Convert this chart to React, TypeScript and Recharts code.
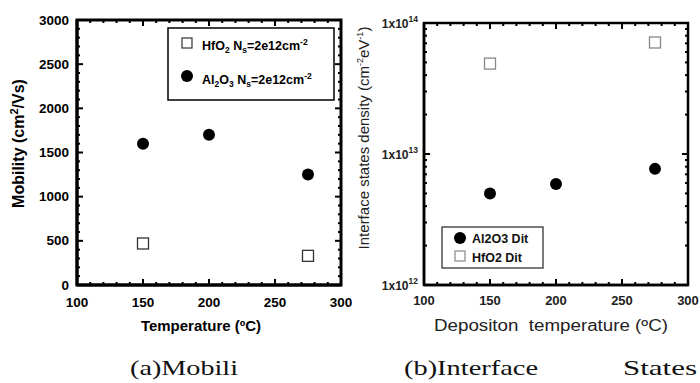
import React from "react";
import { ScatterChart, Scatter, XAxis, YAxis, Label, ReferenceArea } from "recharts";

// deposition temperature (°C) of each sample
const al2o3Temps = [150, 200, 275];
const hfo2Temps = [150, 275];

// (a) mobility, cm²/Vs, at Ns = 2e12 cm^-2
const al2o3Mobility = [1600, 1700, 1250];
const hfo2Mobility = [470, 330];

// (b) interface state density Dit, cm^-2 eV^-1
const al2o3Dit = [5.0e12, 5.9e12, 7.7e12];
const hfo2Dit = [4.9e13, 7.1e13];

// labelled ticks
const tempMajors = [100, 150, 200, 250, 300];
const mobilityMajors = [0, 500, 1000, 1500, 2000, 2500, 3000];
const ditMajors = [1e12, 1e13, 1e14];
const ditExponents = [12, 13, 14];

const FONT = "'Liberation Sans', Arial, sans-serif";

// minor ticks every `step` between the first and last major
const linearTicks = (majors: number[], step: number) => {
  const out: number[] = [];
  for (let v = majors[0]; v <= majors[majors.length - 1]; v += step) out.push(v);
  return out;
};
// 1..9 per decade
const logTicks = (majors: number[]) => {
  const out: number[] = [];
  majors.forEach((m, i) => {
    if (i === majors.length - 1) return out.push(m);
    for (let k = 1; k < 10; k++) out.push(k * m);
  });
  return out;
};

const tempTicks = linearTicks(tempMajors, 10);
const mobilityTicks = linearTicks(mobilityMajors, 100);
const ditTicks = logTicks(ditMajors);

const al2o3MobilityData = al2o3Temps.map((t, i) => ({ t, v: al2o3Mobility[i] }));
const hfo2MobilityData = hfo2Temps.map((t, i) => ({ t, v: hfo2Mobility[i] }));
const al2o3DitData = al2o3Temps.map((t, i) => ({ t, v: al2o3Dit[i] }));
const hfo2DitData = hfo2Temps.map((t, i) => ({ t, v: hfo2Dit[i] }));

const isMajor = (v: number, majors: number[]) =>
  majors.some((m) => Math.abs(v - m) <= Math.abs(m) * 1e-6 + 1e-9);

type TickOpts = {
  far: number; // opposite edge of the frame, for the mirrored tick
  label: (v: number) => React.ReactNode;
  fontSize: number;
  color: string;
  offset: number;
};

// inward tick marks on both edges of the frame, label on the outer side
function makeTick(side: "bottom" | "left", majors: number[], o: TickOpts) {
  return (props: any) => {
    const x = Number(props.x);
    const y = Number(props.y);
    const v = props.payload.value;
    const major = isMajor(v, majors);
    const len = major ? 6 : 3;
    if (side === "bottom")
      return (
        <g>
          <line x1={x} y1={y} x2={x} y2={y - len} stroke="#000" strokeWidth={2} />
          <line x1={x} y1={o.far} x2={x} y2={o.far + len} stroke="#000" strokeWidth={2} />
          {major && (
            <text x={x} y={y + o.offset} textAnchor="middle" fontFamily={FONT} fontSize={o.fontSize} fontWeight="bold" fill={o.color}>
              {o.label(v)}
            </text>
          )}
        </g>
      );
    return (
      <g>
        <line x1={x} y1={y} x2={x + len} y2={y} stroke="#000" strokeWidth={2} />
        <line x1={o.far} y1={y} x2={o.far - len} y2={y} stroke="#000" strokeWidth={2} />
        {major && (
          <text x={x - o.offset} y={y + 4.5} textAnchor="end" fontFamily={FONT} fontSize={o.fontSize} fontWeight="bold" fill={o.color}>
            {o.label(v)}
          </text>
        )}
      </g>
    );
  };
}

const filledDot = (r: number) => (p: any) => <circle cx={p.cx} cy={p.cy} r={r} fill="#000" />;
const openSquare = (size: number, color: string) => (p: any) => (
  <rect x={p.cx - size / 2} y={p.cy - size / 2} width={size} height={size} fill="#fff" stroke={color} strokeWidth={1.3} />
);

const mobilityXTitle = (p: any) => (
  <text x={p.viewBox.x + p.viewBox.width / 2 - 8} y={p.viewBox.y + 46} textAnchor="middle" fontFamily={FONT} fontWeight="bold" fontSize={15}>
    Temperature (ºC)
  </text>
);

const mobilityYTitle = (p: any) => {
  const cx = p.viewBox.x - 52;
  const cy = p.viewBox.y + p.viewBox.height / 2 - 9;
  return (
    <text x={cx} y={cy} transform={`rotate(-90 ${cx} ${cy})`} textAnchor="middle" fontFamily={FONT} fontWeight="bold" fontSize={16}>
      Mobility (cm
      <tspan dy={-6} fontSize={11}>2</tspan>
      <tspan dy={6}>/Vs)</tspan>
    </text>
  );
};

const ditXTitle = (p: any) => (
  <text
    x={p.viewBox.x + p.viewBox.width / 2 - 5}
    y={p.viewBox.y + 46}
    textAnchor="middle"
    fontFamily={FONT}
    fontSize={16}
    fill="#222"
    textLength={234}
    lengthAdjust="spacingAndGlyphs"
  >
    Depositon{"\u00a0"} temperature (ºC)
  </text>
);

const ditYTitle = (p: any) => {
  const cx = p.viewBox.x - 54;
  const cy = p.viewBox.y + p.viewBox.height / 2 - 16;
  return (
    <text x={cx} y={cy} transform={`rotate(-90 ${cx} ${cy})`} textAnchor="middle" fontFamily={FONT} fontSize={15} fill="#222">
      Interface states density (cm
      <tspan dy={-6} fontSize={9}>-2</tspan>
      <tspan dy={6}>eV</tspan>
      <tspan dy={-6} fontSize={9}>-1</tspan>
      <tspan dy={6}>)</tspan>
    </text>
  );
};

const ditLabel = (v: number) => (
  <>
    1x10
    <tspan dy={-6} fontSize={8.5}>
      {ditExponents[ditMajors.indexOf(v)]}
    </tspan>
  </>
);

const MOB = { width: 352, height: 340, margin: { top: 20, right: 11, bottom: 54, left: 76 } };
const DIT = { width: 350, height: 340, margin: { top: 23, right: 12, bottom: 54, left: 73 } };

function MobilityChart() {
  const { width, height, margin } = MOB;
  return (
    <ScatterChart width={width} height={height} margin={margin}>
      <XAxis
        xAxisId="b"
        dataKey="t"
        type="number"
        domain={[100, 300]}
        ticks={tempTicks}
        interval={0}
        height={1}
        tickSize={0}
        tickMargin={0}
        tickLine={false}
        axisLine={{ stroke: "#000", strokeWidth: 3 }}
        tick={makeTick("bottom", tempMajors, { far: margin.top, label: (v) => v, fontSize: 13.5, color: "#000", offset: 22 })}
      >
        <Label content={mobilityXTitle} />
      </XAxis>
      <YAxis
        yAxisId="l"
        dataKey="v"
        type="number"
        domain={[0, 3000]}
        ticks={mobilityTicks}
        interval={0}
        width={1}
        tickSize={0}
        tickMargin={0}
        tickLine={false}
        axisLine={{ stroke: "#000", strokeWidth: 3 }}
        tick={makeTick("left", mobilityMajors, { far: width - margin.right, label: (v) => v, fontSize: 13.5, color: "#000", offset: 8 })}
      >
        <Label content={mobilityYTitle} />
      </YAxis>
      <ReferenceArea xAxisId="b" yAxisId="l" x1={100} x2={300} y1={0} y2={3000} fill="none" stroke="#000" strokeWidth={3} />
      <Scatter xAxisId="b" yAxisId="l" data={hfo2MobilityData} shape={openSquare(11, "#333")} isAnimationActive={false} />
      <Scatter xAxisId="b" yAxisId="l" data={al2o3MobilityData} shape={filledDot(6)} isAnimationActive={false} />
    </ScatterChart>
  );
}

function DitChart() {
  const { width, height, margin } = DIT;
  return (
    <ScatterChart width={width} height={height} margin={margin}>
      <XAxis
        xAxisId="b"
        dataKey="t"
        type="number"
        domain={[100, 300]}
        ticks={tempTicks}
        interval={0}
        height={1}
        tickSize={0}
        tickMargin={0}
        tickLine={false}
        axisLine={{ stroke: "#000", strokeWidth: 2.5 }}
        tick={makeTick("bottom", tempMajors, { far: margin.top, label: (v) => v, fontSize: 13, color: "#222", offset: 20 })}
      >
        <Label content={ditXTitle} />
      </XAxis>
      <YAxis
        yAxisId="l"
        dataKey="v"
        type="number"
        scale="log"
        domain={[1e12, 1e14]}
        ticks={ditTicks}
        interval={0}
        width={1}
        tickSize={0}
        tickMargin={0}
        tickLine={false}
        axisLine={{ stroke: "#000", strokeWidth: 2.5 }}
        tick={makeTick("left", ditMajors, { far: width - margin.right, label: ditLabel, fontSize: 12, color: "#222", offset: 6 })}
      >
        <Label content={ditYTitle} />
      </YAxis>
      <ReferenceArea xAxisId="b" yAxisId="l" x1={100} x2={300} y1={1e12} y2={1e14} fill="none" stroke="#000" strokeWidth={2.5} />
      <Scatter xAxisId="b" yAxisId="l" data={al2o3DitData} shape={filledDot(6)} isAnimationActive={false} />
      <Scatter xAxisId="b" yAxisId="l" data={hfo2DitData} shape={openSquare(11, "#888")} isAnimationActive={false} />
    </ScatterChart>
  );
}

const legendFont = { fontFamily: FONT, fontWeight: "bold" as const, fontSize: 12.5 };

function MobilityLegend() {
  return (
    <svg width={180} height={90} viewBox="160 20 180 90" style={{ position: "absolute", left: 160, top: 20 }}>
      <rect x={168} y={28} width={166} height={72} fill="#fff" stroke="#000" strokeWidth={1.5} />
      <rect x={182} y={38} width={10} height={10} fill="#fff" stroke="#333" strokeWidth={1.2} />
      <text x={202} y={50} {...legendFont}>
        HfO<tspan dy={3} fontSize={8.5}>2</tspan>
        <tspan dy={-3}> N</tspan>
        <tspan dy={3} fontSize={8.5}>s</tspan>
        <tspan dy={-3}>=2e12cm</tspan>
        <tspan dy={-5} fontSize={8.5}>-2</tspan>
      </text>
      <circle cx={187} cy={76} r={6} fill="#000" />
      <text x={202} y={84} {...legendFont}>
        Al<tspan dy={3} fontSize={8.5}>2</tspan>
        <tspan dy={-3}>O</tspan>
        <tspan dy={3} fontSize={8.5}>3</tspan>
        <tspan dy={-3}> N</tspan>
        <tspan dy={3} fontSize={8.5}>s</tspan>
        <tspan dy={-3}>=2e12cm</tspan>
        <tspan dy={-5} fontSize={8.5}>-2</tspan>
      </text>
    </svg>
  );
}

function DitLegend() {
  return (
    <svg width={115} height={55} viewBox="436 220 115 55" style={{ position: "absolute", left: 436, top: 220 }}>
      <rect x={442} y={227} width={101} height={41} fill="#fff" stroke="#333" strokeWidth={1.3} />
      <circle cx={460} cy={238} r={6} fill="#000" />
      <text x={472} y={243} {...legendFont} fill="#111">
        Al2O3 Dit
      </text>
      <rect x={455} y={251} width={10} height={10} fill="#fff" stroke="#888" strokeWidth={1.2} />
      <text x={472} y={262} {...legendFont} fill="#111">
        HfO2 Dit
      </text>
    </svg>
  );
}

function Captions() {
  const capFont = { fontFamily: "'Liberation Serif', serif", fontSize: 22, fill: "#111" };
  return (
    <svg width={700} height={43} viewBox="0 340 700 43" style={{ position: "absolute", left: 0, top: 340 }}>
      <text x={130} y={375} textLength={108} lengthAdjust="spacingAndGlyphs" {...capFont}>
        (a)Mobili
      </text>
      <text x={404} y={375} textLength={134} lengthAdjust="spacingAndGlyphs" {...capFont}>
        (b)Interface
      </text>
      <text x={623} y={375} textLength={74} lengthAdjust="spacingAndGlyphs" {...capFont}>
        States
      </text>
    </svg>
  );
}

export default function App() {
  return (
    <div style={{ position: "absolute", left: 0, top: 0, width: 700, height: 383, background: "#fff" }}>
      <div style={{ position: "absolute", left: 0, top: 0 }}>
        <MobilityChart />
      </div>
      <div style={{ position: "absolute", left: 350, top: 0 }}>
        <DitChart />
      </div>
      <MobilityLegend />
      <DitLegend />
      <Captions />
    </div>
  );
}
